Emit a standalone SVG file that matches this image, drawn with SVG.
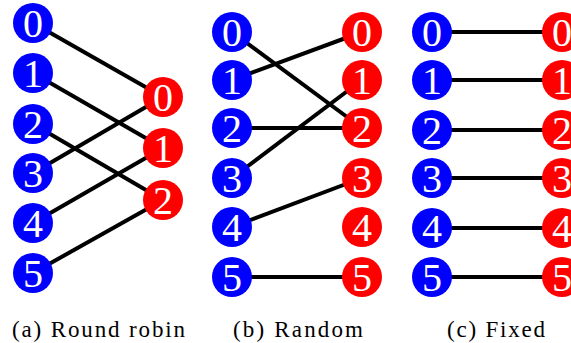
<svg xmlns="http://www.w3.org/2000/svg" width="571" height="343" viewBox="0 0 571 343">
<style>
.l{fill:#0000ff}
.r{fill:#ff0000}
.n{font-family:'Liberation Serif','Times New Roman',serif;font-size:40px;fill:#fff;text-anchor:middle}
.e{stroke:#000;stroke-width:4;fill:none}
.cap{font-family:'Liberation Serif','Times New Roman',serif;font-size:23px;fill:#000}
</style>
<rect width="571" height="343" fill="#fff"/>
<g id="connectors">
<line class="e" x1="33" y1="23" x2="163" y2="97"/>
<line class="e" x1="33" y1="73" x2="163" y2="148"/>
<line class="e" x1="33" y1="124" x2="163" y2="200"/>
<line class="e" x1="33" y1="173" x2="163" y2="97"/>
<line class="e" x1="33" y1="223" x2="163" y2="148"/>
<line class="e" x1="33" y1="273" x2="163" y2="200"/>
<line class="e" x1="232" y1="32" x2="362" y2="128"/>
<line class="e" x1="232" y1="80" x2="362" y2="32"/>
<line class="e" x1="232" y1="128" x2="362" y2="128"/>
<line class="e" x1="232" y1="178" x2="362" y2="80"/>
<line class="e" x1="232" y1="227" x2="362" y2="178"/>
<line class="e" x1="232" y1="277" x2="362" y2="277"/>
<line class="e" x1="432" y1="32" x2="562" y2="32"/>
<line class="e" x1="432" y1="80" x2="562" y2="80"/>
<line class="e" x1="432" y1="130" x2="562" y2="130"/>
<line class="e" x1="432" y1="178" x2="562" y2="178"/>
<line class="e" x1="432" y1="228" x2="562" y2="228"/>
<line class="e" x1="432" y1="277" x2="562" y2="277"/>
</g>
<g id="a-l0"><circle class="l" cx="33" cy="23" r="20"/><text class="n" font-family="Liberation Serif" x="33" y="37">0</text></g>
<g id="a-l1"><circle class="l" cx="33" cy="73" r="20"/><text class="n" font-family="Liberation Serif" x="33" y="87">1</text></g>
<g id="a-l2"><circle class="l" cx="33" cy="124" r="20"/><text class="n" font-family="Liberation Serif" x="33" y="138">2</text></g>
<g id="a-l3"><circle class="l" cx="33" cy="173" r="20"/><text class="n" font-family="Liberation Serif" x="33" y="187">3</text></g>
<g id="a-l4"><circle class="l" cx="33" cy="223" r="20"/><text class="n" font-family="Liberation Serif" x="33" y="237">4</text></g>
<g id="a-l5"><circle class="l" cx="33" cy="273" r="20"/><text class="n" font-family="Liberation Serif" x="33" y="287">5</text></g>
<g id="a-r0"><circle class="r" cx="163" cy="97" r="20"/><text class="n" font-family="Liberation Serif" x="163" y="111">0</text></g>
<g id="a-r1"><circle class="r" cx="163" cy="148" r="20"/><text class="n" font-family="Liberation Serif" x="163" y="162">1</text></g>
<g id="a-r2"><circle class="r" cx="163" cy="200" r="20"/><text class="n" font-family="Liberation Serif" x="163" y="214">2</text></g>
<g id="b-l0"><circle class="l" cx="232" cy="32" r="20"/><text class="n" font-family="Liberation Serif" x="232" y="46">0</text></g>
<g id="b-l1"><circle class="l" cx="232" cy="80" r="20"/><text class="n" font-family="Liberation Serif" x="232" y="94">1</text></g>
<g id="b-l2"><circle class="l" cx="232" cy="128" r="20"/><text class="n" font-family="Liberation Serif" x="232" y="142">2</text></g>
<g id="b-l3"><circle class="l" cx="232" cy="178" r="20"/><text class="n" font-family="Liberation Serif" x="232" y="192">3</text></g>
<g id="b-l4"><circle class="l" cx="232" cy="227" r="20"/><text class="n" font-family="Liberation Serif" x="232" y="241">4</text></g>
<g id="b-l5"><circle class="l" cx="232" cy="277" r="20"/><text class="n" font-family="Liberation Serif" x="232" y="291">5</text></g>
<g id="b-r0"><circle class="r" cx="362" cy="32" r="20"/><text class="n" font-family="Liberation Serif" x="362" y="46">0</text></g>
<g id="b-r1"><circle class="r" cx="362" cy="80" r="20"/><text class="n" font-family="Liberation Serif" x="362" y="94">1</text></g>
<g id="b-r2"><circle class="r" cx="362" cy="128" r="20"/><text class="n" font-family="Liberation Serif" x="362" y="142">2</text></g>
<g id="b-r3"><circle class="r" cx="362" cy="178" r="20"/><text class="n" font-family="Liberation Serif" x="362" y="192">3</text></g>
<g id="b-r4"><circle class="r" cx="362" cy="227" r="20"/><text class="n" font-family="Liberation Serif" x="362" y="241">4</text></g>
<g id="b-r5"><circle class="r" cx="362" cy="277" r="20"/><text class="n" font-family="Liberation Serif" x="362" y="291">5</text></g>
<g id="c-l0"><circle class="l" cx="432" cy="32" r="20"/><text class="n" font-family="Liberation Serif" x="432" y="46">0</text></g>
<g id="c-l1"><circle class="l" cx="432" cy="80" r="20"/><text class="n" font-family="Liberation Serif" x="432" y="94">1</text></g>
<g id="c-l2"><circle class="l" cx="432" cy="130" r="20"/><text class="n" font-family="Liberation Serif" x="432" y="144">2</text></g>
<g id="c-l3"><circle class="l" cx="432" cy="178" r="20"/><text class="n" font-family="Liberation Serif" x="432" y="192">3</text></g>
<g id="c-l4"><circle class="l" cx="432" cy="228" r="20"/><text class="n" font-family="Liberation Serif" x="432" y="242">4</text></g>
<g id="c-l5"><circle class="l" cx="432" cy="277" r="20"/><text class="n" font-family="Liberation Serif" x="432" y="291">5</text></g>
<g id="c-r0"><circle class="r" cx="562" cy="32" r="20"/><text class="n" font-family="Liberation Serif" x="562" y="46">0</text></g>
<g id="c-r1"><circle class="r" cx="562" cy="80" r="20"/><text class="n" font-family="Liberation Serif" x="562" y="94">1</text></g>
<g id="c-r2"><circle class="r" cx="562" cy="130" r="20"/><text class="n" font-family="Liberation Serif" x="562" y="144">2</text></g>
<g id="c-r3"><circle class="r" cx="562" cy="178" r="20"/><text class="n" font-family="Liberation Serif" x="562" y="192">3</text></g>
<g id="c-r4"><circle class="r" cx="562" cy="228" r="20"/><text class="n" font-family="Liberation Serif" x="562" y="242">4</text></g>
<g id="c-r5"><circle class="r" cx="562" cy="277" r="20"/><text class="n" font-family="Liberation Serif" x="562" y="291">5</text></g>
<g id="captions">
<text class="cap" font-family="Liberation Serif" x="12" y="337" textLength="173" lengthAdjust="spacing">(a) Round robin</text>
<text class="cap" font-family="Liberation Serif" x="233" y="337" textLength="130" lengthAdjust="spacing">(b) Random</text>
<text class="cap" font-family="Liberation Serif" x="447" y="337" textLength="98" lengthAdjust="spacing">(c) Fixed</text>
</g>
</svg>
